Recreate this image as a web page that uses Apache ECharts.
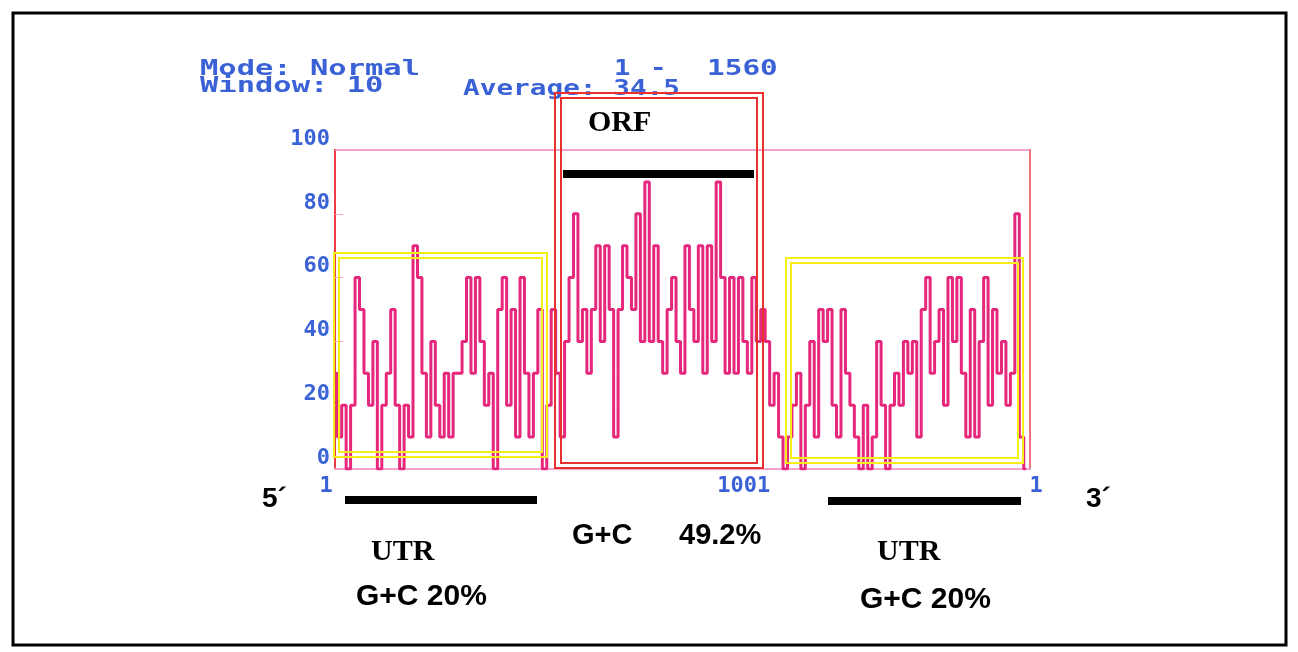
<!DOCTYPE html>
<html>
<head>
<meta charset="utf-8">
<script src="https://cdn.jsdelivr.net/npm/echarts@6/dist/echarts.min.js"></script>
<style>
  html, body { margin: 0; padding: 0; background: #fff; }
  #chart { width: 1298px; height: 652px; }
</style>
</head>
<body>
<div id="chart"></div>
<script>
// G+C content (%) per 10 bp window
const windowStep = 10;
const seqLength = 1560;
const gcValues = [
  30, 10, 20, 0, 20, 60, 50, 30, 20, 40,
  0, 20, 30, 50, 20, 0, 20, 10, 70, 60,
  30, 10, 40, 20, 10, 30, 10, 30, 30, 40,
  60, 30, 60, 40, 20, 30, 0, 50, 60, 20,
  50, 10, 60, 30, 10, 30, 50, 0, 20, 50,
  30, 10, 40, 60, 80, 40, 50, 30, 50, 70,
  40, 70, 50, 10, 50, 70, 60, 50, 80, 40,
  90, 40, 70, 40, 30, 50, 60, 40, 30, 70,
  50, 40, 70, 30, 70, 40, 90, 60, 30, 60,
  30, 60, 40, 30, 60, 40, 50, 40, 20, 30,
  10, 0, 10, 20, 30, 0, 20, 40, 10, 50,
  40, 50, 20, 10, 50, 30, 20, 10, 0, 20,
  0, 10, 40, 20, 0, 20, 30, 20, 40, 30,
  40, 10, 50, 60, 30, 40, 50, 20, 60, 40,
  60, 30, 10, 50, 10, 40, 60, 20, 50, 30,
  40, 20, 30, 80, 10, 0
];
const yTicks = [0, 20, 40, 60, 80, 100];
const xTickValues = [1, 1001, 1560];
const xTickLabels = ['1', '1001', '1'];
const xTickStyles = ['first', 'mid', 'last'];

const blue = '#3a62d6';
const mono = '"DejaVu Sans Mono", monospace';

const chart = echarts.init(document.getElementById('chart'));

const lineData = gcValues.map((v, i) => [1 + i * windowStep, v]);

function box(x1, y1, x2, y2, color) {
  return {
    type: 'rect', z: 20,
    shape: { x: x1, y: y1, width: x2 - x1, height: y2 - y1 },
    style: { fill: null, stroke: color, lineWidth: 2 }
  };
}
function bar(x1, y1, x2, y2) {
  return {
    type: 'rect', z: 20,
    shape: { x: x1, y: y1, width: x2 - x1, height: y2 - y1 },
    style: { fill: '#000' }
  };
}
function label(text, x, y, font, size, opts) {
  return Object.assign({
    type: 'text', z: 25, x: x, y: y,
    style: {
      text: text, fill: '#000', fontFamily: font, fontSize: size,
      fontWeight: 'bold', textVerticalAlign: 'top'
    }
  }, opts || {});
}
function header(text, x, y, sx) {
  return {
    type: 'text', z: 5, x: x, y: y, scaleX: sx,
    style: {
      text: text, fill: blue, fontFamily: mono, fontSize: 21,
      fontWeight: 'bold', textVerticalAlign: 'top'
    }
  };
}

const option = {
  backgroundColor: '#fff',
  animation: false,
  grid: {
    left: 335, right: 268, top: 150, bottom: 183,
    show: true, borderColor: '#f4a3cf', borderWidth: 2
  },
  xAxis: {
    type: 'value', min: 1, max: seqLength,
    splitLine: { show: false },
    axisLine: { lineStyle: { color: '#f4a3cf', width: 2 } },
    axisTick: { show: false },
    axisLabel: {
      customValues: xTickValues,
      margin: 6,
      color: blue, fontFamily: mono, fontSize: 22, fontWeight: 'bold',
      formatter: function (v) {
        const k = xTickValues.indexOf(v);
        return k < 0 ? '' : '{' + xTickStyles[k] + '|' + xTickLabels[k] + '}';
      },
      rich: {
        first: { color: blue, fontFamily: mono, fontSize: 22, fontWeight: 'bold', padding: [0, 18, 0, 0] },
        mid: { color: blue, fontFamily: mono, fontSize: 22, fontWeight: 'bold', padding: [0, 74, 0, 0] },
        last: { color: blue, fontFamily: mono, fontSize: 22, fontWeight: 'bold', padding: [0, 0, 0, 12] }
      }
    }
  },
  yAxis: [{
    type: 'value', min: 0, max: 100, interval: 20,
    splitLine: { show: false },
    axisLine: { show: true, lineStyle: { color: '#ef3b45', width: 2 } },
    axisTick: { show: true, inside: true, length: 8, lineStyle: { color: '#f4a3cf' } },
    axisLabel: {
      customValues: yTicks,
      margin: 5, color: blue, fontFamily: mono, fontSize: 22, fontWeight: 'bold',
      verticalAlign: 'bottom'
    }
  }, {
    type: 'value', min: 0, max: 100, position: 'right',
    splitLine: { show: false },
    axisLine: { show: true, lineStyle: { color: '#f0737f', width: 2 } },
    axisTick: { show: false },
    axisLabel: { show: false }
  }],
  series: [{
    type: 'line',
    data: lineData,
    step: 'middle',
    showSymbol: false,
    lineStyle: { color: '#e6287c', width: 3 },
    z: 3
  }],
  graphic: [
    {
      type: 'rect', z: 30,
      shape: { x: 13, y: 13, width: 1273, height: 632 },
      style: { fill: null, stroke: '#000', lineWidth: 3 }
    },
    header('Mode: Normal', 200, 59, 1.45),
    header('Window: 10', 200, 76, 1.45),
    header('Average: 34.5', 463, 79, 1.32),
    header('1', 614, 59, 1.3),
    header('-', 650, 59, 1.3),
    header('1560', 707, 59, 1.4),
    // ORF double box
    box(555, 93, 763, 468, '#e8302f'),
    box(561, 98, 757, 463, '#e8302f'),
    // UTR double boxes
    box(334, 253, 547, 457, '#f6ee1a'),
    box(339, 258, 542, 452, '#f6ee1a'),
    box(786, 258, 1023, 463, '#f6ee1a'),
    box(791, 263, 1018, 458, '#f6ee1a'),
    bar(563, 170, 754, 178),
    bar(345, 496, 537, 504),
    bar(828, 497, 1021, 505),
    label('ORF', 588, 108, '"Liberation Serif", serif', 30),
    label('UTR', 371, 537, '"Liberation Serif", serif', 30),
    label('UTR', 877, 537, '"Liberation Serif", serif', 30),
    label('G+C 20%', 356, 582, '"Liberation Sans", Arial, sans-serif', 30),
    label('G+C 20%', 860, 585, '"Liberation Sans", Arial, sans-serif', 30),
    label('G+C', 572, 521, '"Liberation Sans", Arial, sans-serif', 29),
    label('49.2%', 679, 521, '"Liberation Sans", Arial, sans-serif', 29),
    label('5\u00b4', 262, 485, '"Liberation Sans", Arial, sans-serif', 28),
    label('3\u00b4', 1086, 485, '"Liberation Sans", Arial, sans-serif', 28)
  ]
};

chart.setOption(option);
window.addEventListener('resize', () => chart.resize());
</script>
</body>
</html>
